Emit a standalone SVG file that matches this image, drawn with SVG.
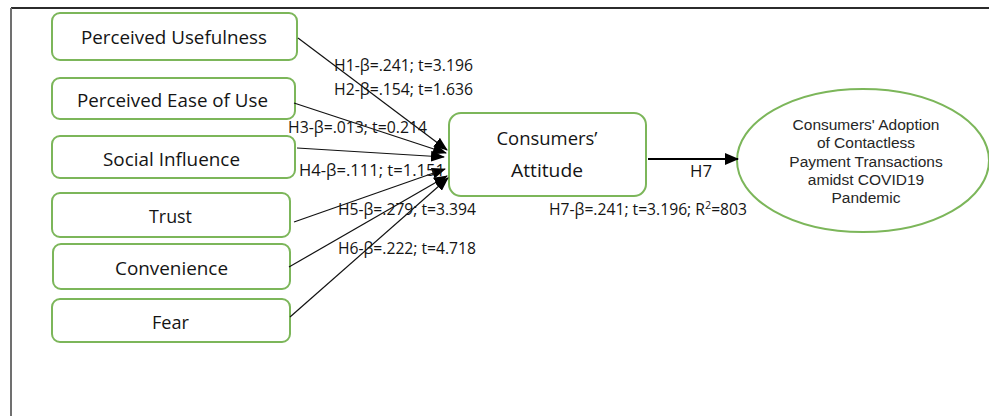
<svg xmlns="http://www.w3.org/2000/svg" width="989" height="416" viewBox="0 0 989 416">
  <style>
    .box { fill: #ffffff; stroke: #7cb65a; stroke-width: 2; }
    .lbl { font-family: "Open Sans", "Noto Sans", sans-serif; font-size: 18.5px; fill: #141414; text-anchor: middle; }
    .path-lbl { font-family: "Open Sans", "Noto Sans", sans-serif; font-size: 16px; fill: #141414; }
    .oval-lbl { font-family: "Liberation Sans", Arial, sans-serif; font-size: 15.5px; fill: #262626; text-anchor: middle; }
    .edge { stroke: #111111; stroke-width: 1.2; fill: none; marker-end: url(#head); }
    .edge-bold { stroke: #000000; stroke-width: 2.2; fill: none; marker-end: url(#headBold); }
  </style>
  <defs>
    <marker id="head" markerWidth="14" markerHeight="11" refX="13" refY="5.5" orient="auto" markerUnits="userSpaceOnUse">
      <path d="M0,0 L14,5.5 L0,11 Z" fill="#000000"/>
    </marker>
    <marker id="headBold" markerWidth="14" markerHeight="12" refX="13" refY="6" orient="auto" markerUnits="userSpaceOnUse">
      <path d="M0,0 L14,6 L0,12 Z" fill="#000000"/>
    </marker>
  </defs>

  <rect width="989" height="416" fill="#ffffff"/>

  <!-- frame -->
  <line x1="11" y1="8" x2="989" y2="8" stroke="#2b2b2b" stroke-width="2"/>
  <line x1="11" y1="8" x2="11" y2="416" stroke="#707070" stroke-width="2"/>

  <!-- predictors -->
  <g id="perceived-usefulness">
    <rect class="box" x="52" y="13" width="245" height="47" rx="8"/>
    <text class="lbl" x="174" y="44" textLength="186" lengthAdjust="spacingAndGlyphs">Perceived Usefulness</text>
  </g>
  <g id="perceived-ease-of-use">
    <rect class="box" x="52" y="78" width="243" height="41" rx="8"/>
    <text class="lbl" x="172.5" y="107" textLength="191" lengthAdjust="spacingAndGlyphs">Perceived Ease of Use</text>
  </g>
  <g id="social-influence">
    <rect class="box" x="52" y="136" width="243" height="42" rx="8"/>
    <text class="lbl" x="171.5" y="166" textLength="137" lengthAdjust="spacingAndGlyphs">Social Influence</text>
  </g>
  <g id="trust">
    <rect class="box" x="52" y="193" width="238" height="44" rx="8"/>
    <text class="lbl" x="170.5" y="223" textLength="43" lengthAdjust="spacingAndGlyphs">Trust</text>
  </g>
  <g id="convenience">
    <rect class="box" x="53" y="244" width="237" height="45" rx="8"/>
    <text class="lbl" x="171.5" y="275" textLength="113" lengthAdjust="spacingAndGlyphs">Convenience</text>
  </g>
  <g id="fear">
    <rect class="box" x="52" y="299" width="238" height="43" rx="8"/>
    <text class="lbl" x="170.5" y="329" textLength="37" lengthAdjust="spacingAndGlyphs">Fear</text>
  </g>

  <!-- mediator -->
  <g id="consumers-attitude">
    <rect class="box" x="449" y="113" width="197" height="83" rx="12"/>
    <text class="lbl" x="547" y="145" textLength="101" lengthAdjust="spacingAndGlyphs">Consumers’</text>
    <text class="lbl" x="547" y="177" textLength="72" lengthAdjust="spacingAndGlyphs">Attitude</text>
  </g>

  <!-- outcome -->
  <g id="adoption">
    <ellipse cx="863" cy="160.5" rx="126" ry="71.5" fill="#ffffff" stroke="#7cb65a" stroke-width="2"/>
    <text class="oval-lbl" x="866" y="130">Consumers' Adoption</text>
    <text class="oval-lbl" x="866" y="148">of Contactless</text>
    <text class="oval-lbl" x="866" y="167">Payment Transactions</text>
    <text class="oval-lbl" x="866" y="185">amidst COVID19</text>
    <text class="oval-lbl" x="866" y="203">Pandemic</text>
  </g>

  <!-- paths -->
  <g id="connectors">
    <line class="edge" x1="298" y1="38" x2="447" y2="150"/>
    <line class="edge" x1="294" y1="103" x2="446" y2="153"/>
    <line class="edge" x1="297" y1="148" x2="444" y2="157"/>
    <line class="edge" x1="294" y1="222" x2="445" y2="169"/>
    <line class="edge" x1="289" y1="267" x2="447" y2="176"/>
    <line class="edge" x1="290" y1="317" x2="448" y2="178"/>
    <line class="edge-bold" x1="648" y1="159" x2="738" y2="159"/>

    <text class="path-lbl" x="334" y="71" textLength="139" lengthAdjust="spacingAndGlyphs">H1-β=.241; t=3.196</text>
    <text class="path-lbl" x="334" y="95" textLength="139" lengthAdjust="spacingAndGlyphs">H2-β=.154; t=1.636</text>
    <text class="path-lbl" x="288" y="133" textLength="139" lengthAdjust="spacingAndGlyphs">H3-β=.013; t=0.214</text>
    <text class="path-lbl" x="299" y="176" textLength="146" lengthAdjust="spacingAndGlyphs">H4-β=.111; t=1.151</text>
    <text class="path-lbl" x="338" y="215" textLength="138" lengthAdjust="spacingAndGlyphs">H5-β=.279; t=3.394</text>
    <text class="path-lbl" x="338" y="254" textLength="138" lengthAdjust="spacingAndGlyphs">H6-β=.222; t=4.718</text>
    <text class="path-lbl" x="549" y="215" textLength="198" lengthAdjust="spacingAndGlyphs">H7-β=.241; t=3.196; R<tspan font-size="11" dy="-6">2</tspan><tspan dy="6">=803</tspan></text>
    <text class="path-lbl" x="690" y="177" font-size="18" textLength="22" lengthAdjust="spacingAndGlyphs">H7</text>
  </g>
</svg>
